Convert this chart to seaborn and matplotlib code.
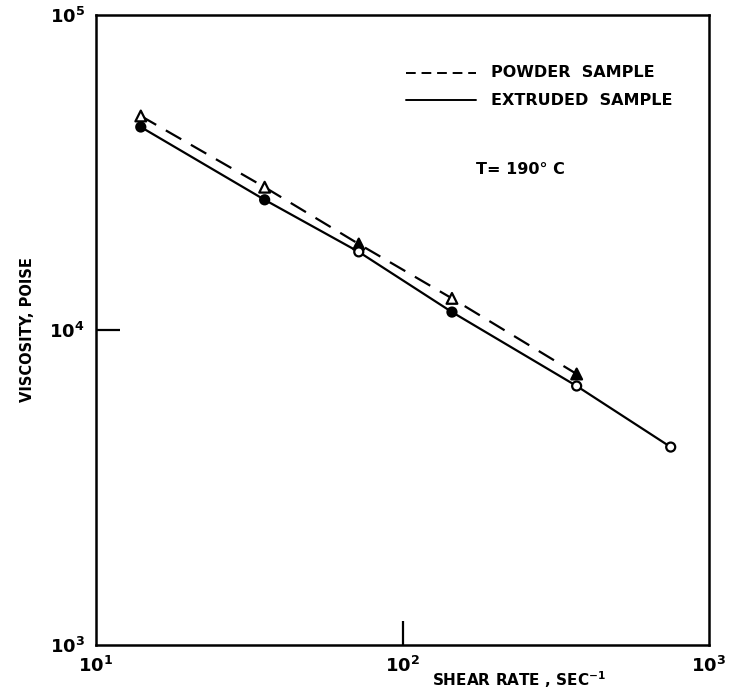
import numpy as np
import pandas as pd
import matplotlib
matplotlib.use("Agg")
import matplotlib.pyplot as plt
from matplotlib.ticker import NullFormatter
import seaborn as sns

# Data
powder_rate = [14, 35.5, 72, 145, 370]
powder_visc = [47800, 28400, 18750, 12600, 7250]
powder_fill = ["open", "open", "filled", "open", "filled"]

extruded_rate = [14, 35.5, 72, 145, 370, 750]
extruded_visc = [44100, 25900, 17700, 11400, 6640, 4250]
extruded_fill = ["filled", "filled", "open", "filled", "open", "open"]

x_ticks = [10, 100, 1000]
x_ticklabels = [r"$\mathregular{10^{1}}$", r"$\mathregular{10^{2}}$", r"$\mathregular{10^{3}}$"]
y_ticks = [1000, 10000, 100000]
y_ticklabels = [r"$\mathregular{10^{3}}$", r"$\mathregular{10^{4}}$", r"$\mathregular{10^{5}}$"]
x_inner_tick = [100]
y_inner_tick = [10000]

powder = pd.DataFrame({"rate": powder_rate, "visc": powder_visc, "fill": powder_fill})
extruded = pd.DataFrame({"rate": extruded_rate, "visc": extruded_visc, "fill": extruded_fill})

sns.set_style("white")
plt.rcParams["font.family"] = ["DejaVu Sans"]
plt.rcParams["font.weight"] = "bold"
for k in ["text.color", "axes.labelcolor", "xtick.color", "ytick.color"]:
    plt.rcParams[k] = "black"

fig = plt.figure(figsize=(7.36, 6.94), dpi=100)
ax = fig.add_axes([96/736, 49/694, 613/736, 630/694])

sns.lineplot(data=powder, x="rate", y="visc", ax=ax, color="black", lw=1.6,
             linestyle=(0, (8, 5)), sort=True)
sns.lineplot(data=extruded, x="rate", y="visc", ax=ax, color="black", lw=1.6, sort=True)

pal = {"open": "white", "filled": "black"}
sns.scatterplot(data=powder, x="rate", y="visc", hue="fill", palette=pal, marker="^",
                s=60, edgecolor="black", linewidth=1.6, ax=ax, legend=False, zorder=5)
sns.scatterplot(data=extruded, x="rate", y="visc", hue="fill", palette=pal, marker="o",
                s=42, edgecolor="black", linewidth=1.6, ax=ax, legend=False, zorder=5)

ax.set_xscale("log")
ax.set_yscale("log")
ax.set_xlim(10, 1000)
ax.set_ylim(1000, 100000)
ax.minorticks_off()

ax.set_xticks(x_ticks)
ax.set_xticklabels(x_ticklabels, fontsize=13)
ax.set_yticks(y_ticks)
ax.set_yticklabels(y_ticklabels, fontsize=13)
ax.tick_params(axis="both", which="major", length=0, pad=8)

# interior tick marks at 10^2 and 10^4
ax.xaxis.remove_overlapping_locs = False
ax.yaxis.remove_overlapping_locs = False
ax.set_xticks(x_inner_tick, minor=True)
ax.set_yticks(y_inner_tick, minor=True)
ax.xaxis.set_minor_formatter(NullFormatter())
ax.yaxis.set_minor_formatter(NullFormatter())
ax.tick_params(axis="both", which="minor", direction="in", length=17, width=1.6,
               color="black", bottom=True, left=True)

for sp in ax.spines.values():
    sp.set_linewidth(1.8)
    sp.set_color("black")

ax.set_xlabel(r"SHEAR RATE , SEC$^{\mathregular{-1}}$", fontsize=11, fontweight="bold")
ax.xaxis.set_label_coords(0.69, -0.038)
ax.set_ylabel("VISCOSITY, POISE", fontsize=10.5, fontweight="bold")
ax.yaxis.set_label_coords(-0.1, 0.5)

# legend drawn manually to match layout
ax.plot([0.505, 0.62], [0.908, 0.908], transform=ax.transAxes, color="black", lw=1.4,
        linestyle=(0, (5, 3)))
ax.plot([0.505, 0.62], [0.865, 0.865], transform=ax.transAxes, color="black", lw=1.4)
ax.text(0.645, 0.908, "POWDER  SAMPLE", transform=ax.transAxes, fontsize=11.5,
        fontweight="bold", va="center", ha="left")
ax.text(0.645, 0.865, "EXTRUDED  SAMPLE", transform=ax.transAxes, fontsize=11.5,
        fontweight="bold", va="center", ha="left")
ax.text(0.62, 0.754, "T= 190° C", transform=ax.transAxes, fontsize=11.5,
        fontweight="bold", va="center", ha="left")

fig.savefig("out.png", dpi=100)
